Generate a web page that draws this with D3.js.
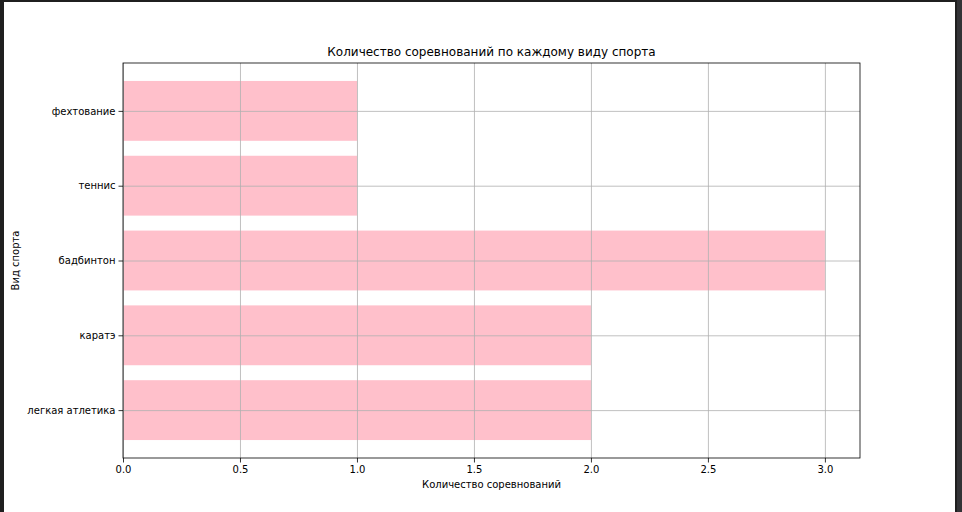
<!DOCTYPE html>
<html><head><meta charset="utf-8">
<script src="https://cdn.jsdelivr.net/npm/d3@7"></script>
<style>
html,body{margin:0;padding:0;background:#fff;}
svg{display:block;font-family:"DejaVu Sans",sans-serif;}
</style></head>
<body><svg id="c" width="962" height="512"></svg>
<script>
const categories = ["легкая атлетика","каратэ","бадбинтон","теннис","фехтование"];
const values = [2, 2, 3, 1, 1];
const xTicks = [0, 0.5, 1.0, 1.5, 2.0, 2.5, 3.0];
const title = "Количество соревнований по каждому виду спорта";
const xLabel = "Количество соревнований";
const yLabel = "Вид спорта";

const svg = d3.select("#c");
// frame
svg.append("rect").attr("x",0).attr("y",0).attr("width",962).attr("height",512).attr("fill","#1f1f1f");
svg.append("rect").attr("x",957).attr("y",0).attr("width",5).attr("height",512).attr("fill","#333336");
svg.append("rect").attr("x",4).attr("y",2).attr("width",951).attr("height",510).attr("fill","#fff");

const L=123,R=860,T=63,B=458;
const x = d3.scaleLinear().domain([0, 3.15]).range([L, R]);
const y = d3.scaleLinear().domain([-0.64, 4.64]).range([B, T]);
const g = svg.append("g");

// bars
g.selectAll("rect.bar").data(values).enter().append("rect")
 .attr("x", x(0)).attr("y", (d,i)=>y(i+0.4))
 .attr("width", d=>x(d)-x(0)).attr("height",(d,i)=>y(i-0.4)-y(i+0.4))
 .attr("fill","#ffc0cb");

// grid
const xa = d3.axisBottom(x).tickValues(xTicks).tickFormat(d3.format(".1f")).tickSize(-(B-T)).tickPadding(0);
const gx = g.append("g").attr("transform",`translate(0,${B})`).call(xa);
gx.select(".domain").remove();
gx.selectAll(".tick line").attr("stroke","#b0b0b0").attr("stroke-width",0.8);
gx.selectAll(".tick text").remove();
const ya = d3.axisLeft(y).tickValues(d3.range(categories.length)).tickSize(-(R-L));
const gy = g.append("g").attr("transform",`translate(${L},0)`).call(ya);
gy.select(".domain").remove();
gy.selectAll(".tick line").attr("stroke","#b0b0b0").attr("stroke-width",0.8);
gy.selectAll(".tick text").remove();

// ticks and labels
const xb = d3.axisBottom(x).tickValues(xTicks).tickFormat(d3.format(".1f")).tickSize(4.5).tickPadding(3);
const gxb = g.append("g").attr("transform",`translate(0,${B})`).call(xb);
gxb.select(".domain").remove();
gxb.selectAll(".tick line").attr("stroke","#000").attr("stroke-width",0.8);
gxb.selectAll(".tick text").attr("font-size",10).attr("fill","#000").attr("font-family","DejaVu Sans");
const yb = d3.axisLeft(y).tickValues(d3.range(categories.length)).tickFormat(i=>categories[i]).tickSize(4.5).tickPadding(3);
const gyb = g.append("g").attr("transform",`translate(${L},0)`).call(yb);
gyb.select(".domain").remove();
gyb.selectAll(".tick line").attr("stroke","#000").attr("stroke-width",0.8);
gyb.selectAll(".tick text").attr("font-size",10).attr("fill","#000").attr("font-family","DejaVu Sans");

// spines
svg.append("rect").attr("x",L).attr("y",T).attr("width",R-L).attr("height",B-T)
 .attr("fill","none").attr("stroke","#000").attr("stroke-width",0.8);

svg.append("text").attr("x",(L+R)/2).attr("y",T-7).attr("text-anchor","middle")
 .attr("font-size",12).text(title);
svg.append("text").attr("x",(L+R)/2).attr("y",488).attr("text-anchor","middle")
 .attr("font-size",10).text(xLabel);
svg.append("text").attr("transform",`translate(19,${(T+B)/2}) rotate(-90)`).attr("text-anchor","middle")
 .attr("font-size",10).text(yLabel);
</script></body></html>
